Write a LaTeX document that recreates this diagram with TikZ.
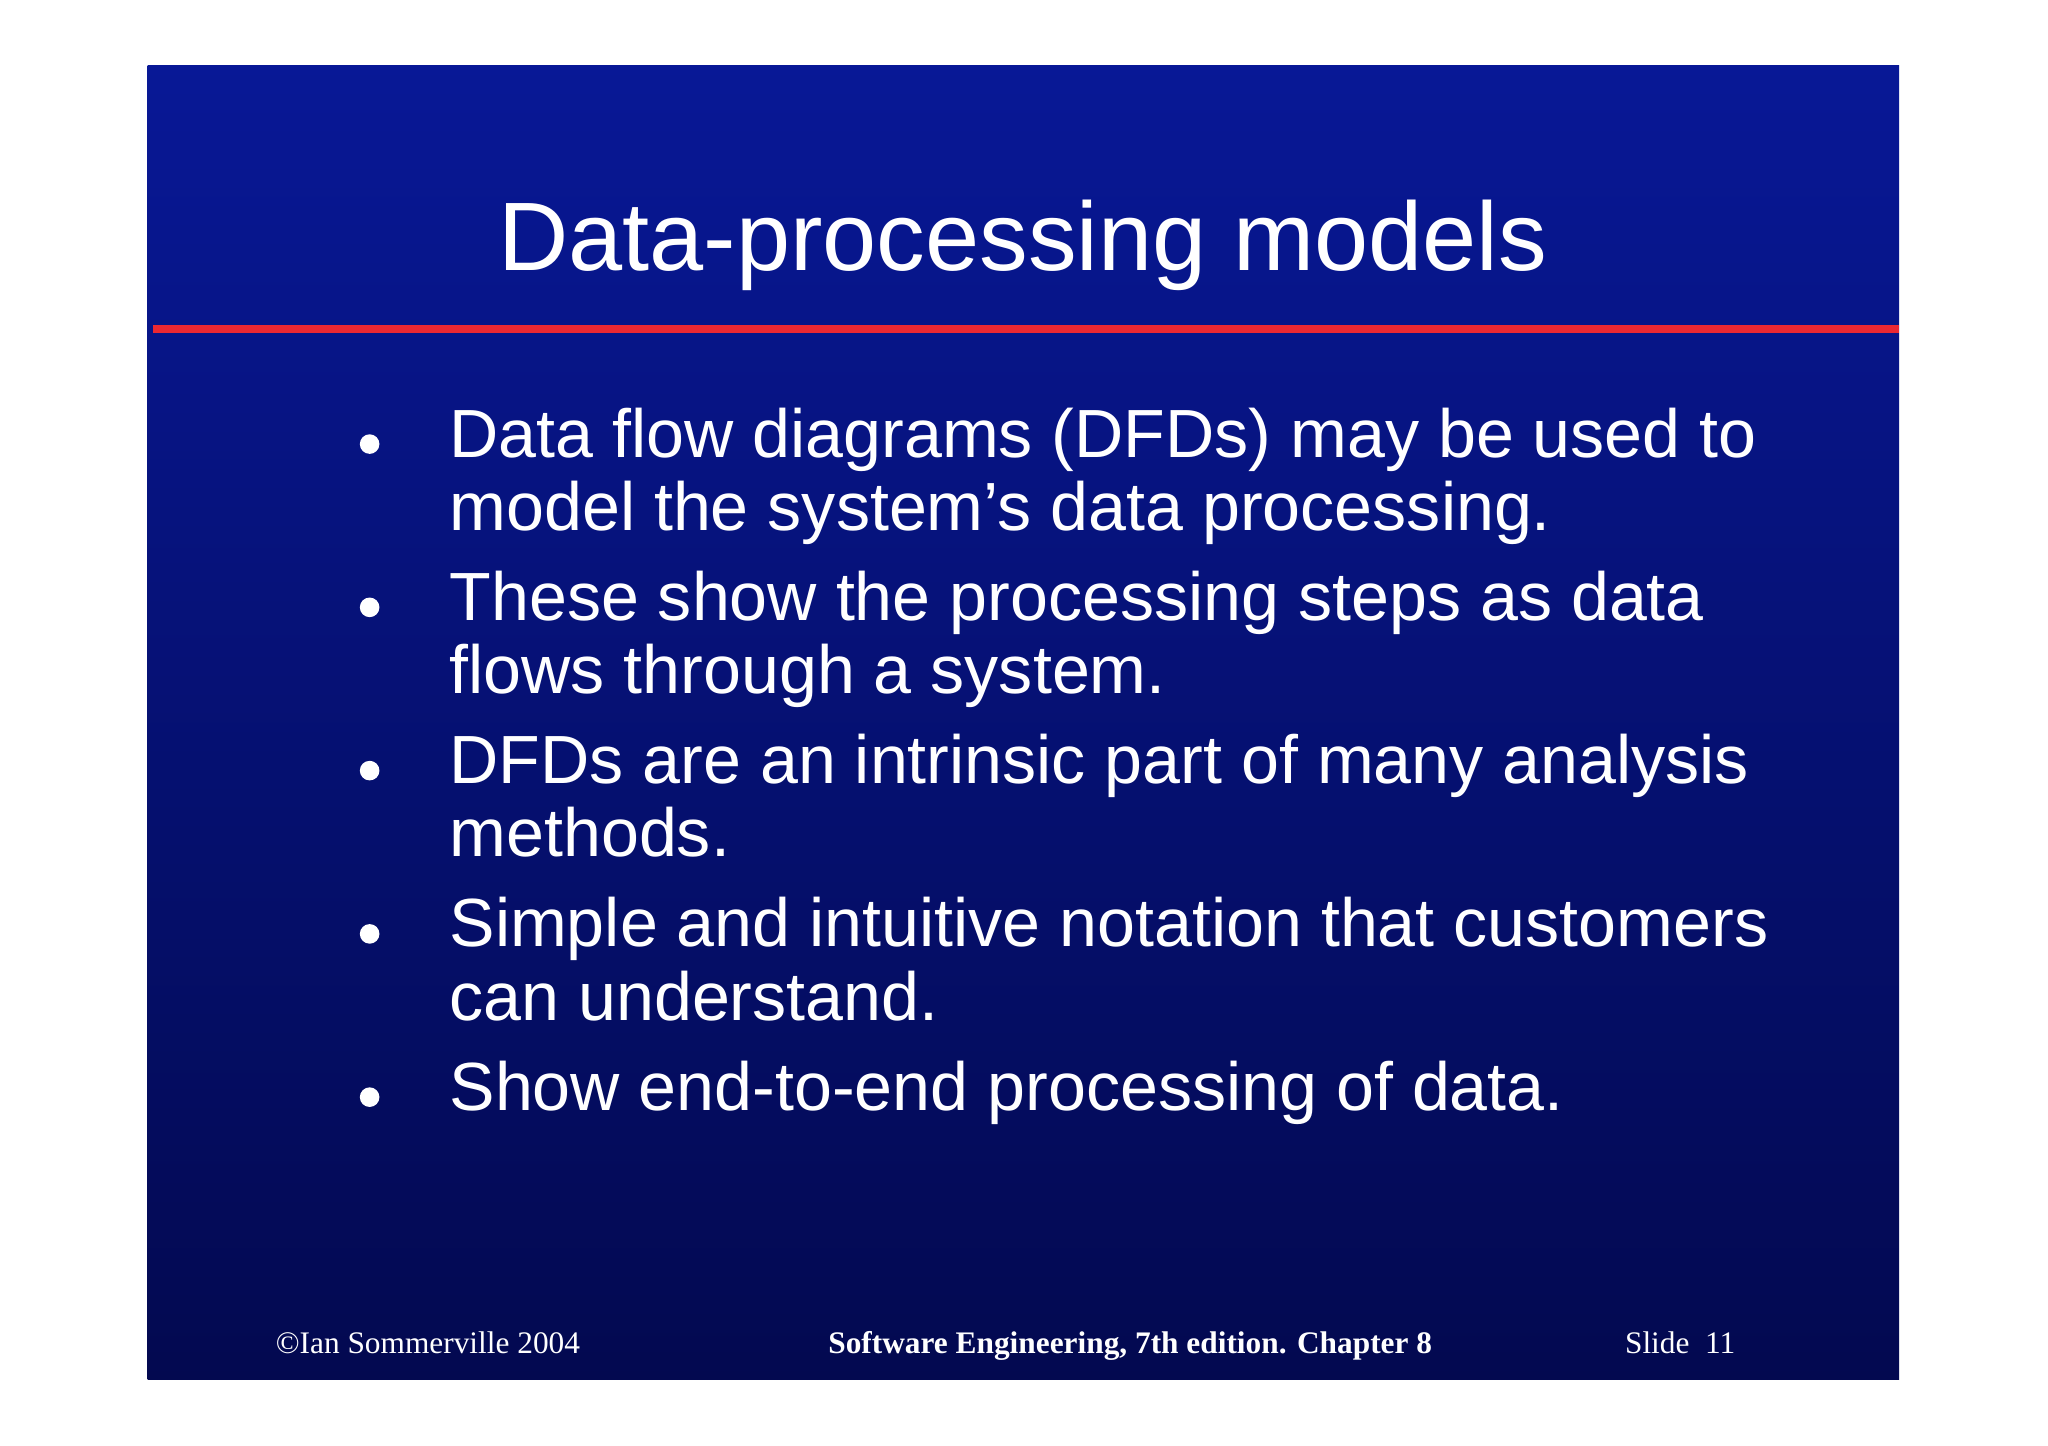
\documentclass[tikz,border=0pt]{standalone}
\usepackage{fontspec}
\setmainfont{Liberation Sans}
\newfontfamily\footfont{Liberation Serif}
\definecolor{topblue}{RGB}{8,24,150}
\definecolor{botblue}{RGB}{3,9,80}
\definecolor{redline}{RGB}{235,40,50}
\begin{document}
\begin{tikzpicture}[x=1pt,y=-1pt,
  bul/.style={anchor=base west,text=white,font=\fontsize{52.2}{56}\selectfont,inner sep=0pt},
  dot/.style={circle,fill=white,inner sep=0pt,minimum size=15pt},
  foot/.style={anchor=base west,text=white,font=\footfont\fontsize{24}{26}\selectfont,inner sep=0pt}]
\useasboundingbox (0,0) rectangle (1568,1107);
\fill[white] (0,0) rectangle (1568,1107);
\shade[top color=topblue,bottom color=botblue] (113,50) rectangle (1454,1056);
\fill[redline] (117,249) rectangle (1454,255);
\node[anchor=base,text=white,font=\fontsize{74.5}{80}\selectfont,inner sep=0pt] (title) at (783,207) {Data-processing models};
\foreach \y/\n in {340/a,465/b,590/c,715/d,840/e} \node[dot] (d\n) at (283,\y) {};
\node[bul] (t1) at (344,350) {Data flow diagrams (DFDs) may be used to};
\node[bul] (t1b) at (344,406) {model the system’s data processing.};
\node[bul] (t2) at (344,475) {These show the processing steps as data};
\node[bul] (t2b) at (344,531) {flows through a system.};
\node[bul] (t3) at (344,600) {DFDs are an intrinsic part of many analysis};
\node[bul] (t3b) at (344,656) {methods.};
\node[bul] (t4) at (344,725) {Simple and intuitive notation that customers};
\node[bul] (t4b) at (344,781) {can understand.};
\node[bul] (t5) at (344,850) {Show end-to-end processing of data.};
\node[foot] (f1) at (211,1036) {©Ian Sommerville 2004};
\node[foot,font=\footfont\bfseries\fontsize{24}{26}\selectfont] (f2) at (634,1036) {Software Engineering, 7th edition. Chapter 8};
\node[foot] (f3) at (1244,1036) {Slide\ \ 11};
\end{tikzpicture}
\end{document}
